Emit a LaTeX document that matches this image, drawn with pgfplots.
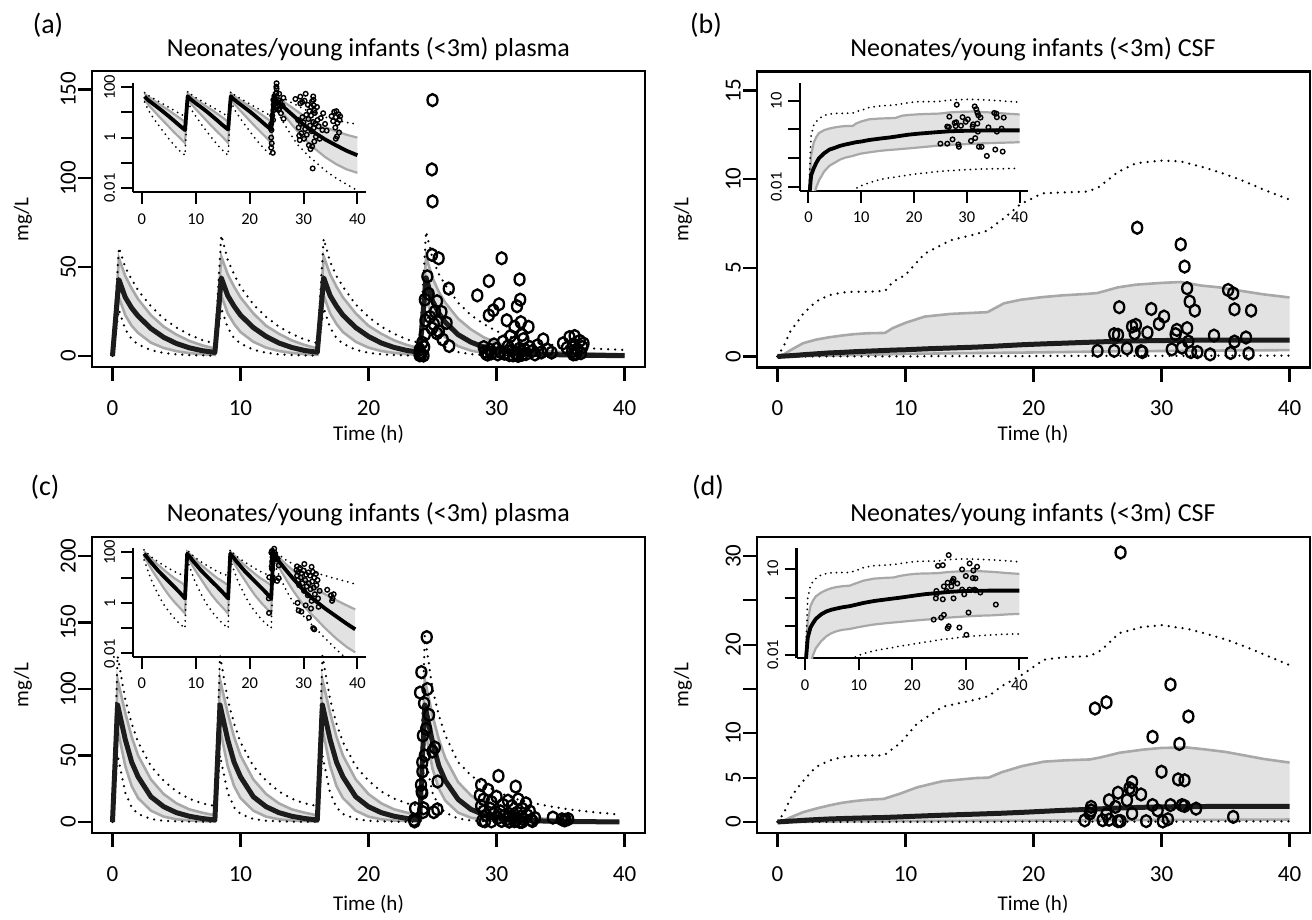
\documentclass[border=0pt]{standalone}
\usepackage{fontspec}
\setmainfont{Carlito}
\usepackage{pgfplots}
\usepackage{pgfplotstable}
\pgfplotsset{compat=1.18}
\usepgfplotslibrary{fillbetween}

\definecolor{bandfill}{HTML}{E2E2E2}
\definecolor{bandline}{HTML}{A8A8A8}
\definecolor{medcol}{HTML}{1C1C1C}

\newcommand\ttl{\fontsize{26}{26}\selectfont}
\newcommand\lbl{\fontsize{21}{21}\selectfont}
\newcommand\tkl{\fontsize{23}{23}\selectfont}
\newcommand\pan{\fontsize{28}{28}\selectfont}

% model curves: median, 5-95% band (glo/ghi), dotted limits (dlo/dhi)
\pgfplotstableread{
t med glo ghi dlo dhi
0 0.001 0.001 0.001 0.001 0.001
0.5 43 33 55 26 61
1 33 23 45 15 50
1.5 27 17 38 9.5 43
2 22.5 13 32 6.5 37
3 15.5 7.5 23 3.3 28
4 10.5 4.5 16.5 1.7 21
5 7.0 2.7 12 0.9 16
6 4.6 1.6 8.5 0.5 12
7 3.0 1.0 6.0 0.3 9
8 2.0 0.6 4.2 0.2 7
8.5 44 34 56 27 68
9 34 24 46 16 54
9.5 28 18 39 10 46
10 23 13.5 33 7 39
11 16 8 24 3.5 29
12 11 4.7 17 1.8 22
13 7.3 2.8 12.5 0.95 16.5
14 4.8 1.7 8.8 0.52 12.5
15 3.1 1.05 6.2 0.31 9.3
16 2.1 0.62 4.3 0.2 7.2
16.5 44 34 56 27 66
17 34 24 46 16 53
17.5 28 18 39 10 45
18 23 13.5 33 7 39
19 16 8 24 3.5 29
20 11 4.7 17 1.8 22
21 7.3 2.8 12.5 0.95 16.5
22 4.8 1.7 8.8 0.52 12.5
23 3.1 1.05 6.2 0.31 9.3
24 2.1 0.62 4.3 0.2 7.2
24.5 44 33 56 25 70
25 31 21 44 13 55
25.5 24 14.5 36 8 46
26 19 10.5 30 5 40
27 12 5.5 21 2.2 30
28 7.8 3.0 15 1.0 23
29 5.0 1.7 10.5 0.5 18
30 3.3 1.0 7.5 0.3 14
31 2.3 0.6 5.5 0.18 11
32 1.6 0.38 4.2 0.12 9
34 0.85 0.17 2.6 0.05 6.5
36 0.5 0.09 1.8 0.025 5
38 0.3 0.055 1.3 0.014 4
40 0.2 0.04 1.0 0.008 3.4
}\modA

\pgfplotstableread{
t c
24.0 0.4
24.0 1.0
24.05 2.0
24.1 0.6
24.0 3.5
24.2 7.5
24.3 0.25
24.4 31.7
24.4 12
24.35 5
24.45 20
24.6 44.8
24.8 22
24.96 15.5
24.96 56.9
25.0 144
24.95 105
25.0 87
25.35 30.8
25.35 12.7
25.48 55
25.7 24.8
26.1 18.6
26.27 37.9
26.3 5.6
25.1 18
25.2 25
24.7 35
25.5 14
25.8 9.3
28.5 34.1
29.4 42.2
29.4 22.9
29.75 25.7
30.2 29.1
30.4 55
30.8 20.1
31.1 11.2
31.4 16.4
31.6 28
31.8 43.1
31.85 31.7
31.9 19
32.0 11.8
32.5 16.4
33.65 9.3
34.3 1.9
35.2 7.1
36.1 11.2
36.8 7.0
29.0 5
29.1 2.5
29.2 1.2
29.3 0.8
29.5 3.5
29.6 1.5
29.8 6.5
30.0 4
30.1 0.9
30.3 2.2
30.5 8
30.6 1.3
30.9 5.5
31.0 0.5
31.2 3
31.3 0.35
31.4 7.5
31.5 1.8
31.6 0.45
31.7 0.06
31.8 4.2
31.9 2.4
32.0 0.7
32.1 9.5
32.2 3.6
32.3 1.1
32.6 5
32.8 2.8
33.0 0.9
33.2 6
33.5 2
34.0 3.5
35.5 4.5
35.7 10.6
35.9 2.5
36.0 6.5
36.2 1.1
36.3 3.8
36.5 8.5
36.6 1.6
36.7 5
36.0 0.9
}\obsA

\pgfplotstableread{
t med glo ghi dlo dhi
0 0.002 0.0005 0.002 0.0001 0.003
0.5 0.025 0.001 0.12 0.0002 0.6
1 0.045 0.005 0.35 0.0003 1.4
1.5 0.07 0.01 0.55 0.0005 1.9
2 0.1 0.017 0.75 0.0007 2.4
3 0.15 0.035 0.95 0.001 3.1
4 0.2 0.055 1.08 0.0015 3.45
5 0.23 0.07 1.18 0.002 3.6
6 0.27 0.09 1.26 0.003 3.65
7 0.3 0.105 1.31 0.004 3.65
8.4 0.34 0.12 1.33 0.006 3.7
9 0.36 0.13 1.6 0.009 4.2
10 0.38 0.145 1.9 0.011 4.6
11.5 0.43 0.16 2.25 0.014 5.8
13.5 0.48 0.18 2.4 0.018 6.55
15.5 0.53 0.195 2.47 0.021 6.9
16.4 0.56 0.2 2.5 0.022 7.1
17.7 0.61 0.21 3.0 0.024 7.8
19 0.66 0.22 3.2 0.026 8.6
20.7 0.71 0.235 3.35 0.029 9.2
22.3 0.75 0.25 3.45 0.031 9.25
24.2 0.8 0.27 3.53 0.034 9.3
25 0.82 0.275 3.58 0.035 9.5
26.6 0.86 0.29 3.9 0.037 10.4
28 0.88 0.3 4.05 0.038 10.9
30 0.9 0.31 4.15 0.04 11.05
31.5 0.91 0.32 4.2 0.041 11.0
33.1 0.92 0.33 4.0 0.042 10.7
34.5 0.93 0.335 3.9 0.043 10.4
36.4 0.93 0.345 3.68 0.043 9.9
38 0.93 0.35 3.5 0.044 9.4
40 0.93 0.36 3.33 0.044 8.85
}\modB

\pgfplotstableread{
t c
28.1 7.26
31.5 6.32
31.8 5.07
32.0 3.85
32.2 3.1
32.6 2.59
35.2 3.75
35.6 3.56
35.7 2.66
37.0 2.59
26.7 2.78
29.2 2.68
30.2 2.25
29.8 1.84
31.2 1.5
31.1 1.26
32.0 1.6
32.1 0.84
27.7 1.69
28.0 1.78
27.9 1.31
28.9 1.35
26.3 1.26
26.6 1.22
34.1 1.18
35.7 0.84
36.6 1.07
25.0 0.32
26.3 0.32
27.3 0.45
28.4 0.3
28.5 0.25
30.8 0.4
31.6 0.5
32.3 0.25
32.8 0.25
33.8 0.12
35.4 0.2
36.8 0.17
}\obsB

\pgfplotstableread{
t med glo ghi dlo dhi
0 0.001 0.001 0.001 0.001 0.001
0.4 88 70 107 50 125
1 62 42 82 22 92
1.5 45 27 64 11 74
2 34 18 50 6 60
3 19 8.5 32 2.2 42
4 11.5 4 21 0.9 31
5 7 2 14 0.45 23
6 4.3 1.1 9.5 0.25 17.5
7 2.6 0.65 7 0.15 14
8 1.5 0.38 5 0.1 12
8.4 88 70 107 50 125
9 62 42 82 22 92
9.5 45 27 64 11 74
10 34 18 50 6 60
11 19 8.5 32 2.2 42
12 11.5 4 21 0.9 31
13 7 2 14 0.45 23
14 4.3 1.1 9.5 0.25 17.5
15 2.6 0.65 7 0.15 14
16 1.5 0.38 5 0.1 12
16.4 88 70 107 50 125
17 62 42 82 22 92
17.5 45 27 64 11 74
18 34 18 50 6 60
19 19 8.5 32 2.2 42
20 11.5 4 21 0.9 31
21 7 2 14 0.45 23
22 4.3 1.1 9.5 0.25 17.5
23 2.6 0.65 7 0.15 14
24 1.5 0.38 5 0.1 12
24.4 88 70 107 50 140
25 60 40 80 22 100
25.5 42 25 62 12 80
26 31 16 48 7 65
27 17 7 30 2.6 45
28 9.5 3.2 20 1.1 35
29 5.5 1.6 13 0.55 28
30 3.2 0.8 8.5 0.3 23
31 2.0 0.45 5.8 0.18 19
32 1.3 0.28 4.0 0.11 16
34 0.6 0.1 2.2 0.04 12
36 0.3 0.04 1.3 0.015 9
38 0.15 0.018 0.8 0.006 7
39.6 0.09 0.011 0.55 0.003 5.5
}\modC

\pgfplotstableread{
t c
24.55 139
24.13 112.7
24.03 97.3
24.34 89.3
24.73 80.5
25.18 56
25.0 53
24.21 37.9
24.1 27.9
24.15 22.8
24.2 21.8
25.4 30.4
23.64 10.3
24.3 10.3
25.38 9.5
23.56 1.5
23.6 0.4
24.2 45
24.25 65
24.4 50
24.5 70
24.6 100
24.25 7.4
25.1 7.4
30.15 34.6
28.8 27.9
31.5 26.6
29.35 24.1
28.7 20
29.0 17
29.6 15
30.0 19
30.5 13
30.9 16
31.2 12
31.7 17
32.0 10
32.3 14
32.6 8
28.8 12
29.0 8
29.2 5
29.5 10
29.8 6
30.1 3
30.3 8
30.6 4.5
30.8 2
31.0 6
31.3 3.5
31.5 1.2
31.6 7
31.8 0.1
31.9 4
32.1 2.2
32.4 5
32.7 1.5
33.0 3
28.9 1.0
29.1 0.5
29.6 0.45
30.4 0.8
31.0 0.26
31.4 0.6
32.0 0.09
32.8 0.7
34.4 3.3
35.1 2
35.4 1.5
35.6 2.2
35.3 1.2
}\obsC

\pgfplotstableread{
t med glo ghi dlo dhi
0 0.003 0.0005 0.003 0.0001 0.003
0.5 0.04 0.001 0.15 0.0002 1.0
1 0.09 0.005 0.5 0.0003 2.6
1.5 0.13 0.01 0.8 0.0005 3.7
2 0.18 0.017 1.1 0.0007 4.6
3 0.26 0.03 1.5 0.001 6.2
4 0.33 0.045 1.85 0.0015 6.9
5 0.38 0.058 2.15 0.002 7.3
6 0.42 0.068 2.35 0.003 7.45
7 0.46 0.075 2.5 0.004 7.5
8.3 0.5 0.08 2.6 0.006 7.5
9.6 0.57 0.09 3.2 0.009 8.9
10.9 0.65 0.1 3.9 0.011 11.1
12.9 0.76 0.115 4.6 0.014 13
15.5 0.88 0.13 4.95 0.017 13.8
16.5 0.93 0.135 5.0 0.018 14.2
17.5 0.98 0.14 5.6 0.02 15.3
19.1 1.08 0.15 6.3 0.022 16.6
20.8 1.2 0.16 6.8 0.025 18.3
22.5 1.32 0.17 6.95 0.028 18.6
24.4 1.42 0.18 7.05 0.032 18.7
25.3 1.48 0.19 7.3 0.034 19.4
26.7 1.57 0.2 7.8 0.036 21.3
28.5 1.65 0.21 8.15 0.04 22
30 1.7 0.22 8.35 0.043 22.2
32 1.73 0.23 8.4 0.046 21.8
33.3 1.74 0.235 8.2 0.048 21.3
35 1.75 0.24 7.9 0.05 20.6
36.5 1.75 0.25 7.5 0.052 19.8
38 1.75 0.26 7.1 0.053 18.9
40 1.75 0.27 6.7 0.054 17.7
}\modD

\pgfplotstableread{
t c
26.8 30.4
30.7 15.5
24.8 12.8
25.7 13.5
32.1 11.9
29.3 9.6
31.4 8.8
30.0 5.66
31.3 4.8
31.8 4.7
27.7 4.5
27.5 3.8
27.7 3.6
26.6 3.3
28.4 3.1
27.3 2.45
25.9 2.45
24.5 1.7
24.5 1.3
24.4 0.94
26.4 1.7
25.7 0.87
29.3 1.9
29.7 1.3
30.7 1.9
31.6 1.9
31.8 1.8
32.7 1.5
27.7 0.94
24.0 0.17
25.4 0.2
25.9 0.25
26.6 0.085
26.8 0.1
28.8 0.09
30.1 0.05
30.5 0.3
35.6 0.57
}\obsD

\pgfplotsset{
  mainax/.style={scale only axis, width=553pt, height=296pt, anchor=north west,
    xmin=-1.6, xmax=41.6, xtick={0,10,20,30,40},
    tick pos=left, tick align=outside, major tick length=14pt,
    every tick/.style={black, line width=2.2pt},
    axis line style={line width=2.6pt},
    ticklabel style={font=\tkl},
    xticklabel style={inner sep=0pt},
    yticklabel style={rotate=90, anchor=south, inner sep=0pt},
    xticklabel shift=19pt, yticklabel shift=2pt,
    /pgf/number format/assume math mode=true},
  % insets: log10 of the values on a linear axis
  insetax/.style={scale only axis, anchor=north west,
    xmin=-1.6, xmax=41.6, xtick={0,10,20,30,40},
    axis x line*=bottom, axis y line*=left,
    axis line style={line width=2.2pt, -},
    tick align=outside, major tick length=12pt,
    every tick/.style={black, line width=2pt},
    ticklabel style={font=\fontsize{16.5}{16.5}\selectfont},
    xticklabel style={inner sep=0pt},
    yticklabel style={rotate=90, anchor=south, inner sep=0pt},
    xticklabel shift=9pt, yticklabel shift=6pt,
    /pgf/number format/assume math mode=true},
  gline/.style={draw=bandline, line width=2.6pt, no markers},
  dline/.style={black, line width=2.5pt, line cap=round, dash pattern=on 0pt off 7pt, no markers},
  mline/.style={draw=medcol, line width=5pt, no markers, line join=round},
  obs/.style={only marks, mark=o, mark size=5pt, mark options={line width=2.3pt, black, yscale=1.2}},
  igline/.style={draw=bandline, line width=2.2pt, no markers},
  idline/.style={black, line width=2pt, line cap=round, dash pattern=on 0pt off 5.5pt, no markers},
  imline/.style={draw=black, line width=3.8pt, no markers, line join=round},
  iobs/.style={only marks, mark=o, mark size=2.3pt, mark options={line width=1.4pt, black}},
}

\begin{document}
\begin{tikzpicture}
\path (0pt,0pt) rectangle (1312pt,-920pt);

% ---------- (a) ----------
\begin{axis}[mainax, at={(92pt,-71pt)}, ymin=-6.2, ymax=160.4, ytick={0,50,100,150}]
\addplot[draw=none, name path=aU] table[x=t, y=ghi]{\modA};
\addplot[draw=none, name path=aL] table[x=t, y=glo]{\modA};
\addplot[fill=bandfill, draw=none] fill between[of=aU and aL];
\addplot[gline] table[x=t, y=ghi]{\modA};
\addplot[gline] table[x=t, y=glo]{\modA};
\addplot[dline] table[x=t, y=dhi]{\modA};
\addplot[dline] table[x=t, y=dlo]{\modA};
\addplot[mline] table[x=t, y=med]{\modA};
\addplot[obs] table[x=t, y=c]{\obsA};
\end{axis}
\begin{axis}[insetax, at={(133.3pt,-82.7pt)}, width=232.7pt, height=109.6pt,
  ymin=-2.17, ymax=2.18, ytick={-2,-1,0,1,2}, yticklabels={0.01,,1,,100}]
\addplot[draw=none, name path=aiU, skip coords between index={0}{1}] table[x=t, y expr=log10(\thisrow{ghi})]{\modA};
\addplot[draw=none, name path=aiL, skip coords between index={0}{1}] table[x=t, y expr=log10(\thisrow{glo})]{\modA};
\addplot[fill=bandfill, draw=none] fill between[of=aiU and aiL];
\addplot[igline, skip coords between index={0}{1}] table[x=t, y expr=log10(\thisrow{ghi})]{\modA};
\addplot[igline, skip coords between index={0}{1}] table[x=t, y expr=log10(\thisrow{glo})]{\modA};
\addplot[idline, skip coords between index={0}{1}] table[x=t, y expr=log10(\thisrow{dhi})]{\modA};
\addplot[idline, skip coords between index={0}{1}] table[x=t, y expr=log10(\thisrow{dlo})]{\modA};
\addplot[imline, skip coords between index={0}{1}] table[x=t, y expr=log10(\thisrow{med})]{\modA};
\addplot[iobs] table[x=t, y expr=log10(\thisrow{c})]{\obsA};
\end{axis}
\node[font=\pan] at (48pt,-25pt) {(a)};
\node[font=\ttl] at (368.5pt,-49pt) {Neonates/young infants (<3m) plasma};
\node[font=\lbl, rotate=90] at (23pt,-219.5pt) {mg/L};
\node[font=\lbl] at (368.5pt,-434pt) {Time (h)};

% ---------- (b) ----------
\begin{axis}[mainax, at={(757pt,-71.5pt)}, ymin=-0.62, ymax=16.07, ytick={0,5,10,15}]
\addplot[draw=none, name path=bU] table[x=t, y=ghi]{\modB};
\addplot[draw=none, name path=bL] table[x=t, y=glo]{\modB};
\addplot[fill=bandfill, draw=none] fill between[of=bU and bL];
\addplot[gline] table[x=t, y=ghi]{\modB};
\addplot[gline] table[x=t, y=glo]{\modB};
\addplot[dline] table[x=t, y=dhi]{\modB};
\addplot[dline] table[x=t, y=dlo]{\modB};
\addplot[mline] table[x=t, y=med]{\modB};
\addplot[obs] table[x=t, y=c]{\obsB};
\end{axis}
\begin{axis}[insetax, at={(800pt,-82.7pt)}, width=228pt, height=108pt,
  ymin=-2.13, ymax=1.626, ytick={-2,-1,0,1}, yticklabels={0.01,,,10}]
\addplot[draw=none, name path=biU] table[x=t, y expr=log10(\thisrow{ghi})]{\modB};
\addplot[draw=none, name path=biL] table[x=t, y expr=log10(\thisrow{glo})]{\modB};
\addplot[fill=bandfill, draw=none] fill between[of=biU and biL];
\addplot[igline] table[x=t, y expr=log10(\thisrow{ghi})]{\modB};
\addplot[igline] table[x=t, y expr=log10(\thisrow{glo})]{\modB};
\addplot[idline] table[x=t, y expr=log10(\thisrow{dhi})]{\modB};
\addplot[idline] table[x=t, y expr=log10(\thisrow{dlo})]{\modB};
\addplot[imline] table[x=t, y expr=log10(\thisrow{med})]{\modB};
\addplot[iobs] table[x=t, y expr=log10(\thisrow{c})]{\obsB};
\end{axis}
\node[font=\pan] at (706pt,-25pt) {(b)};
\node[font=\ttl] at (1033pt,-49pt) {Neonates/young infants (<3m) CSF};
\node[font=\lbl, rotate=90] at (683pt,-219.5pt) {mg/L};
\node[font=\lbl] at (1033pt,-434pt) {Time (h)};

% ---------- (c) ----------
\begin{axis}[mainax, at={(92pt,-537pt)}, ymin=-8.3, ymax=214.3, ytick={0,50,100,150,200}]
\addplot[draw=none, name path=cU] table[x=t, y=ghi]{\modC};
\addplot[draw=none, name path=cL] table[x=t, y=glo]{\modC};
\addplot[fill=bandfill, draw=none] fill between[of=cU and cL];
\addplot[gline] table[x=t, y=ghi]{\modC};
\addplot[gline] table[x=t, y=glo]{\modC};
\addplot[dline] table[x=t, y=dhi]{\modC};
\addplot[dline] table[x=t, y=dlo]{\modC};
\addplot[mline] table[x=t, y=med]{\modC};
\addplot[obs] table[x=t, y=c]{\obsC};
\end{axis}
\begin{axis}[insetax, at={(133.3pt,-548.3pt)}, width=232.7pt, height=108.4pt,
  ymin=-2.13, ymax=2.16, ytick={-2,-1,0,1,2}, yticklabels={0.01,,1,,100}]
\addplot[draw=none, name path=ciU, skip coords between index={0}{1}] table[x=t, y expr=log10(\thisrow{ghi})]{\modC};
\addplot[draw=none, name path=ciL, skip coords between index={0}{1}] table[x=t, y expr=log10(\thisrow{glo})]{\modC};
\addplot[fill=bandfill, draw=none] fill between[of=ciU and ciL];
\addplot[igline, skip coords between index={0}{1}] table[x=t, y expr=log10(\thisrow{ghi})]{\modC};
\addplot[igline, skip coords between index={0}{1}] table[x=t, y expr=log10(\thisrow{glo})]{\modC};
\addplot[idline, skip coords between index={0}{1}] table[x=t, y expr=log10(\thisrow{dhi})]{\modC};
\addplot[idline, skip coords between index={0}{1}] table[x=t, y expr=log10(\thisrow{dlo})]{\modC};
\addplot[imline, skip coords between index={0}{1}] table[x=t, y expr=log10(\thisrow{med})]{\modC};
\addplot[iobs] table[x=t, y expr=log10(\thisrow{c})]{\obsC};
\end{axis}
\node[font=\pan] at (45pt,-487pt) {(c)};
\node[font=\ttl] at (368.5pt,-514pt) {Neonates/young infants (<3m) plasma};
\node[font=\lbl, rotate=90] at (23pt,-685pt) {mg/L};
\node[font=\lbl] at (368.5pt,-904pt) {Time (h)};

% ---------- (d) ----------
\begin{axis}[mainax, at={(757pt,-537pt)}, ymin=-1.25, ymax=32.15, ytick={0,5,10,15,20,25,30}, yticklabels={0,5,10,,20,,30}]
\addplot[draw=none, name path=dU] table[x=t, y=ghi]{\modD};
\addplot[draw=none, name path=dL] table[x=t, y=glo]{\modD};
\addplot[fill=bandfill, draw=none] fill between[of=dU and dL];
\addplot[gline] table[x=t, y=ghi]{\modD};
\addplot[gline] table[x=t, y=glo]{\modD};
\addplot[dline] table[x=t, y=dhi]{\modD};
\addplot[dline] table[x=t, y=dlo]{\modD};
\addplot[mline] table[x=t, y=med]{\modD};
\addplot[obs] table[x=t, y=c]{\obsD};
\end{axis}
\begin{axis}[insetax, at={(796.5pt,-548.3pt)}, width=231.5pt, height=110pt,
  ymin=-2.12, ymax=1.72, ytick={-2,-1,0,1}, yticklabels={0.01,,,10}]
\addplot[draw=none, name path=diU] table[x=t, y expr=log10(\thisrow{ghi})]{\modD};
\addplot[draw=none, name path=diL] table[x=t, y expr=log10(\thisrow{glo})]{\modD};
\addplot[fill=bandfill, draw=none] fill between[of=diU and diL];
\addplot[igline] table[x=t, y expr=log10(\thisrow{ghi})]{\modD};
\addplot[igline] table[x=t, y expr=log10(\thisrow{glo})]{\modD};
\addplot[idline] table[x=t, y expr=log10(\thisrow{dhi})]{\modD};
\addplot[idline] table[x=t, y expr=log10(\thisrow{dlo})]{\modD};
\addplot[imline] table[x=t, y expr=log10(\thisrow{med})]{\modD};
\addplot[iobs] table[x=t, y expr=log10(\thisrow{c})]{\obsD};
\end{axis}
\node[font=\pan] at (708pt,-487pt) {(d)};
\node[font=\ttl] at (1033pt,-514pt) {Neonates/young infants (<3m) CSF};
\node[font=\lbl, rotate=90] at (683pt,-685pt) {mg/L};
\node[font=\lbl] at (1033pt,-904pt) {Time (h)};
\end{tikzpicture}
\end{document}
